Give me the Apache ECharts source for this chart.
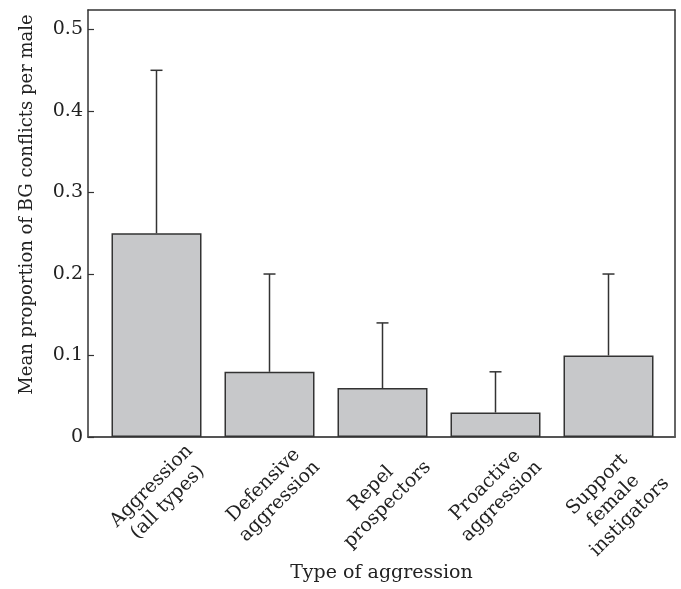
<!DOCTYPE html>
<html>
<head>
<meta charset="utf-8">
<script src="https://cdn.jsdelivr.net/npm/echarts@6/dist/echarts.min.js"></script>
<style>html,body{margin:0;padding:0;background:#fff}#c{width:681px;height:589px}</style>
</head>
<body>
<div id="c"></div>
<script>
var categories = ['Aggression\n(all types)', 'Defensive\naggression', 'Repel\nprospectors', 'Proactive\naggression', 'Support\nfemale\ninstigators'];
var means = [0.25, 0.08, 0.06, 0.03, 0.10];
var upper = [0.45, 0.20, 0.14, 0.08, 0.20];
var yTicks = [0, 0.1, 0.2, 0.3, 0.4, 0.5];
var yTitle = 'Mean proportion of BG conflicts per male';
var xTitle = 'Type of aggression';

var FONT = 'DejaVu Serif';
var FS = 19;
var TXT = '#222';
var YMAX = 0.524;
var chart = echarts.init(document.getElementById('c'), null, {renderer: 'canvas'});

var errData = means.map(function (m, i) { return [i, m, upper[i]]; });

chart.setOption({
  animation: false,
  backgroundColor: '#fff',
  grid: [
    {left: 88, right: 6, top: 10, bottom: 152},
    {left: 100, right: 16, top: 10, bottom: 152},
    {left: 126, right: -16, top: 10, bottom: 152}
  ],
  xAxis: [
    {gridIndex: 0, type: 'value', min: 0, max: 1, position: 'bottom',
     axisLine: {show: true, onZero: false, lineStyle: {color: '#555', width: 2}},
     axisTick: {show: false}, axisLabel: {show: false}, splitLine: {show: false},
     name: xTitle, nameLocation: 'middle', nameGap: 127,
     nameTextStyle: {fontFamily: FONT, fontSize: FS, color: TXT}},
    {gridIndex: 0, type: 'value', min: 0, max: 1, position: 'top',
     axisLine: {show: true, onZero: false, lineStyle: {color: '#333', width: 1.5}},
     axisTick: {show: false}, axisLabel: {show: false}, splitLine: {show: false}},
    {gridIndex: 1, type: 'category', data: categories,
     axisLine: {show: false}, axisTick: {show: false}, axisLabel: {show: false}},
    {gridIndex: 2, type: 'category', data: categories,
     axisLine: {show: false}, axisTick: {show: false},
     axisLabel: {show: true, rotate: 45, margin: 3, interval: 0, align: 'right', verticalAlign: 'top',
       formatter: function (v) { return v.split('\n').map(function (s) { return '{c|' + s + '}'; }).join('\n'); },
       rich: {c: {align: 'center', fontFamily: FONT, fontSize: FS, lineHeight: 23, color: TXT}}}}
  ],
  yAxis: [
    {gridIndex: 0, type: 'value', min: 0, max: YMAX, interval: 0.1, position: 'left',
     axisLine: {show: true, onZero: false, lineStyle: {color: '#333', width: 1.5}},
     axisTick: {show: true, inside: true, length: 6, lineStyle: {color: '#333', width: 1.2}},
     axisLabel: {margin: 5, fontFamily: FONT, fontSize: FS, color: TXT, showMaxLabel: false,
       formatter: function (v) {
         for (var k = 0; k < yTicks.length; k++) {
           if (Math.abs(v - yTicks[k]) < 1e-6) return yTicks[k] === 0 ? '0' : yTicks[k].toFixed(1);
         }
         return '';
       }},
     splitLine: {show: false},
     name: yTitle, nameLocation: 'middle', nameGap: 52,
     nameTextStyle: {fontFamily: FONT, fontSize: 18, color: TXT, padding: [0, 0, 0, 38]}},
    {gridIndex: 0, type: 'value', min: 0, max: 1, position: 'right',
     axisLine: {show: true, onZero: false, lineStyle: {color: '#333', width: 1.5}},
     axisTick: {show: false}, axisLabel: {show: false}, splitLine: {show: false}},
    {gridIndex: 1, type: 'value', min: 0, max: YMAX, show: false},
    {gridIndex: 2, type: 'value', min: 0, max: YMAX, show: false}
  ],
  series: [
    {type: 'bar', xAxisIndex: 2, yAxisIndex: 2, data: means, barWidth: 90,
     itemStyle: {color: '#c7c8ca', borderColor: '#333', borderWidth: 1.5}},
    {type: 'custom', xAxisIndex: 2, yAxisIndex: 2, data: errData, z: 5,
     renderItem: function (params, api) {
       var x = api.value(0);
       var lo = api.coord([x, api.value(1)]);
       var hi = api.coord([x, api.value(2)]);
       var hw = 6;
       var st = {stroke: '#333', lineWidth: 1.5};
       return {type: 'group', children: [
         {type: 'line', shape: {x1: lo[0], y1: lo[1], x2: hi[0], y2: hi[1]}, style: st},
         {type: 'line', shape: {x1: hi[0] - hw, y1: hi[1], x2: hi[0] + hw, y2: hi[1]}, style: st}
       ]};
     }}
  ]
});
</script>
</body>
</html>
